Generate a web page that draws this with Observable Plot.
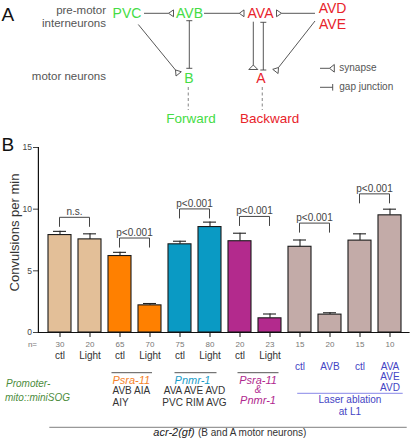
<!DOCTYPE html>
<html><head><meta charset="utf-8">
<script src="https://cdn.jsdelivr.net/npm/d3@7"></script>
<script src="https://cdn.jsdelivr.net/npm/@observablehq/plot@0.6"></script>
<style>
body{margin:0;background:#fff;}
#chart{position:relative;width:412px;height:442px;overflow:hidden;}
</style>
</head><body><div id="chart"></div>
<script>
// ---------- data ----------
const barIds = [0,1,2,3,4,5,6,7,8,9,10,11];
const values = [7.9, 7.55, 6.2, 2.2, 7.15, 8.55, 7.4, 1.15, 6.95, 1.45, 7.45, 9.5];
const errTops = [8.2, 8.0, 6.5, 2.35, 7.4, 8.95, 8.05, 1.5, 7.5, 1.6, 8.0, 10.0];
const counts = [30, 20, 65, 70, 75, 80, 20, 23, 15, 20, 15, 10];
const conditions = ["ctl","Light","ctl","Light","ctl","Light","ctl","Light","","","",""];
const ablationLabels = ["","","","","","","","","ctl","AVB","ctl","AVA\nAVE\nAVD"];
const barColors = ["#E3BF98","#E3BF98","#FF8000","#FF8000","#0A9AC4","#0A9AC4","#B32A8D","#B32A8D","#C3ABA8","#C3ABA8","#C3ABA8","#C3ABA8"];
const yTicks = [0, 5, 10, 15];
const pairs = [[0,1],[2,3],[4,5],[6,7],[8,9],[10,11]];
const pairLabels = ["n.s.","p<0.001","p<0.001","p<0.001","p<0.001","p<0.001"];
const bracketY = [9.3, 7.62, 9.98, 9.37, 8.83, 11.2];

const FONT = "'Liberation Sans', Arial, Helvetica, sans-serif";
const GREEN = "#45dc45", RED = "#e8232b", LINE = "#444", GRAY = "#555";

const bars = barIds.map(i => ({id: i, value: values[i], err: errTops[i], color: barColors[i]}));

const chart = Plot.plot({
  width: 412, height: 442,
  marginTop: 147, marginBottom: 110, marginLeft: 38, marginRight: 2.4,
  style: {fontFamily: FONT, background: "#fff", overflow: "visible"},
  x: {type: "band", domain: barIds, paddingInner: 0.25, paddingOuter: 0.17, label: null},
  y: {domain: [0, 15], label: null},
  marks: [
    Plot.barY(bars, {x: "id", y: "value", fill: "color", stroke: "#1a1a1a", strokeWidth: 1.1}),
    Plot.ruleX(bars, {x: "id", y1: "value", y2: "err", stroke: "#222", strokeWidth: 1.1}),
    Plot.tickY(bars, {x: "id", y: "err", stroke: "#222", strokeWidth: 1.1, insetLeft: 5, insetRight: 5}),
    Plot.ruleY([0], {stroke: "#111", strokeWidth: 1.2}),
    Plot.axisY({ticks: yTicks, tickSize: 5, tickPadding: 1.5, fontSize: 8.5, label: null, color: "#444"}),
    Plot.axisX({tickSize: 5, tickFormat: () => "", label: null, color: "#111"}),
    Plot.axisX({tickSize: 0, tickPadding: 9, tickFormat: i => counts[i], fontSize: 8, label: null, color: "#777"}),
    Plot.axisX({tickSize: 0, tickPadding: 19.5, tickFormat: i => conditions[i], fontSize: 10, label: null, color: "#333"}),
    Plot.axisX({tickSize: 0, tickPadding: 30, tickFormat: i => ablationLabels[i], fontSize: 10, lineHeight: 1.05, label: null, color: "#4444c4"})
  ]
});
document.getElementById("chart").appendChild(chart);

const svg = d3.select(chart);
const xs = chart.scale("x"), ys = chart.scale("y");
const bw = xs.bandwidth;
const cx = i => xs.apply(i) + bw / 2;
const cy = v => ys.apply(v);

const g = svg.append("g").attr("font-family", FONT);
function txt(x, y, s, o = {}) {
  return g.append("text").attr("x", x).attr("y", y).text(s)
    .attr("font-size", o.size || 10).attr("fill", o.fill || "#333")
    .attr("text-anchor", o.anchor || "start")
    .attr("font-style", o.italic ? "italic" : null);
}
function line(x1, y1, x2, y2, o = {}) {
  return g.append("line").attr("x1", x1).attr("y1", y1).attr("x2", x2).attr("y2", y2)
    .attr("stroke", o.stroke || LINE).attr("stroke-width", o.width || 0.9)
    .attr("stroke-dasharray", o.dash || null);
}
function synapse(x1, y1, x2, y2, L = 5, h = 3.4) {
  line(x1, y1, x2, y2);
  const len = Math.hypot(x2 - x1, y2 - y1), dx = (x2 - x1) / len, dy = (y2 - y1) / len;
  const bx = x2 + dx * L, by = y2 + dy * L, nx = -dy, ny = dx;
  g.append("path").attr("d", `M${x2},${y2}L${bx + nx * h},${by + ny * h}L${bx - nx * h},${by - ny * h}Z`)
    .attr("fill", "#fff").attr("stroke", LINE).attr("stroke-width", 0.9);
}
function gap(x1, y1, x2, y2, both = true, h = 3) {
  line(x1, y1, x2, y2);
  const len = Math.hypot(x2 - x1, y2 - y1), nx = -(y2 - y1) / len, ny = (x2 - x1) / len;
  line(x2 - nx * h, y2 - ny * h, x2 + nx * h, y2 + ny * h);
  if (both) line(x1 - nx * h, y1 - ny * h, x1 + nx * h, y1 + ny * h);
}

// ---------- Panel A ----------
txt(1.5, 20.5, "A", {size: 19, fill: "#111"});
txt(106, 14.3, "pre-motor", {size: 11.5, fill: GRAY, anchor: "end"});
txt(106, 26.7, "interneurons", {size: 11.5, fill: GRAY, anchor: "end"});
txt(106, 80, "motor neurons", {size: 11.5, fill: GRAY, anchor: "end"});
const nodes = [
  ["PVC", 127, 18.3, GREEN], ["AVB", 189.5, 18.3, GREEN], ["AVA", 260.5, 18.3, RED],
  ["AVD", 332.5, 12.7, RED], ["AVE", 332.5, 28.7, RED], ["B", 189, 83.3, GREEN], ["A", 261, 83.3, RED]
];
nodes.forEach(([s, x, y, c]) => txt(x, y, s, {size: 14, fill: c, anchor: "middle"}));
txt(191, 123.3, "Forward", {size: 13.5, fill: GREEN, anchor: "middle"});
txt(269.7, 123.3, "Backward", {size: 13.5, fill: RED, anchor: "middle"});
synapse(144, 13.3, 168.5, 13.3);
synapse(204, 13.3, 239.3, 13.3, 4.7);
synapse(315, 13.3, 281.5, 13.3);
synapse(138.3, 24.5, 175.5, 70);
synapse(315, 21, 278.5, 67.5);
synapse(253.3, 21.7, 253.3, 65, 4.5, 4.5);
gap(189.3, 20.7, 189.3, 68.3);
gap(263.3, 22.3, 263.3, 70);
line(188.3, 87, 188.3, 110, {stroke: "#999", width: 1.2, dash: "3,2.5"});
line(262.3, 87, 262.3, 110, {stroke: "#999", width: 1.2, dash: "3,2.5"});
synapse(320, 68.3, 329.5, 68.3, 4.8, 3.8);
gap(320, 87.3, 332.7, 87.3, false, 3.3);
txt(339.3, 70.5, "synapse", {size: 10, fill: GRAY});
txt(339.3, 89.5, "gap junction", {size: 10, fill: GRAY});

// ---------- Panel B extras ----------
txt(1.5, 151, "B", {size: 19, fill: "#111"});
g.append("text").attr("transform", "translate(18.5,232.5) rotate(-90)")
  .attr("text-anchor", "middle").attr("font-size", 13).attr("fill", "#333").text("Convulsions per min");
line(38.4, 147, 38.4, 332.5, {stroke: "#111", width: 1.2});
txt(37, 346.8, "n=", {size: 8, fill: "#777", anchor: "end"});

pairs.forEach(([a, b], k) => {
  const x1 = cx(a), x2 = cx(b), yt = cy(bracketY[k]), yb = yt + 9.5;
  g.append("path").attr("d", `M${x1},${yb}V${yt}H${x2}V${yb}`)
    .attr("fill", "none").attr("stroke", "#444").attr("stroke-width", 1);
  txt((x1 + x2) / 2, yt - 2.2, pairLabels[k], {size: 10, fill: "#444", anchor: "middle"});
});

// group annotations
txt(6, 387, "Promoter-", {size: 10, fill: "#4c8c3c", italic: true});
txt(5, 400.7, "mito::miniSOG", {size: 10, fill: "#4c8c3c", italic: true});

line(cx(2) - 8, 372.7, cx(3) + 2.5, 372.7, {stroke: "#555", width: 1});
txt(cx(2) - 7, 384, "Psra-11", {size: 11, fill: "#f5822a", italic: true});
txt(cx(2) - 7, 394, "AVB AIA", {size: 10, fill: "#333"});
txt(cx(2) - 7, 405.7, "AIY", {size: 10, fill: "#333"});

const gB = (cx(4) + cx(5)) / 2;
line(gB - 20, 372.7, gB + 22, 372.7, {stroke: "#555", width: 1});
txt(gB - 2, 384, "Pnmr-1", {size: 11, fill: "#1a9cc8", italic: true, anchor: "middle"});
txt(gB, 394, "AVA AVE AVD", {size: 10, fill: "#333", anchor: "middle"});
txt(gB, 405.7, "PVC RIM AVG", {size: 10, fill: "#333", anchor: "middle"});

const gM = (cx(6) + cx(7)) / 2;
line(gM - 17, 372.7, gM + 24, 372.7, {stroke: "#555", width: 1});
txt(gM + 3.5, 383.5, "Psra-11", {size: 11, fill: "#b0288e", italic: true, anchor: "middle"});
txt(gM + 3.5, 393.3, "&", {size: 10, fill: "#b0288e", italic: true, anchor: "middle"});
txt(gM + 3.5, 404.3, "Pnmr-1", {size: 11, fill: "#b0288e", italic: true, anchor: "middle"});

const l1 = cx(8) - 2.3, l2 = cx(11) + 13.2;
line(l1, 393.3, l2, 393.3, {stroke: "#8888e8", width: 1});
txt((l1 + l2) / 2, 403.3, "Laser ablation", {size: 10, fill: "#4444c4", anchor: "middle"});
txt((l1 + l2) / 2, 415, "at L1", {size: 10, fill: "#4444c4", anchor: "middle"});

line(49.3, 427.3, 406.7, 427.3, {stroke: "#999", width: 1.2});
txt(153.3, 435.7, "acr-2(gf)", {size: 11, fill: "#222", italic: true});
txt(198, 435.7, "(B and A motor neurons)", {size: 10, fill: "#333"});
</script>
</body></html>
